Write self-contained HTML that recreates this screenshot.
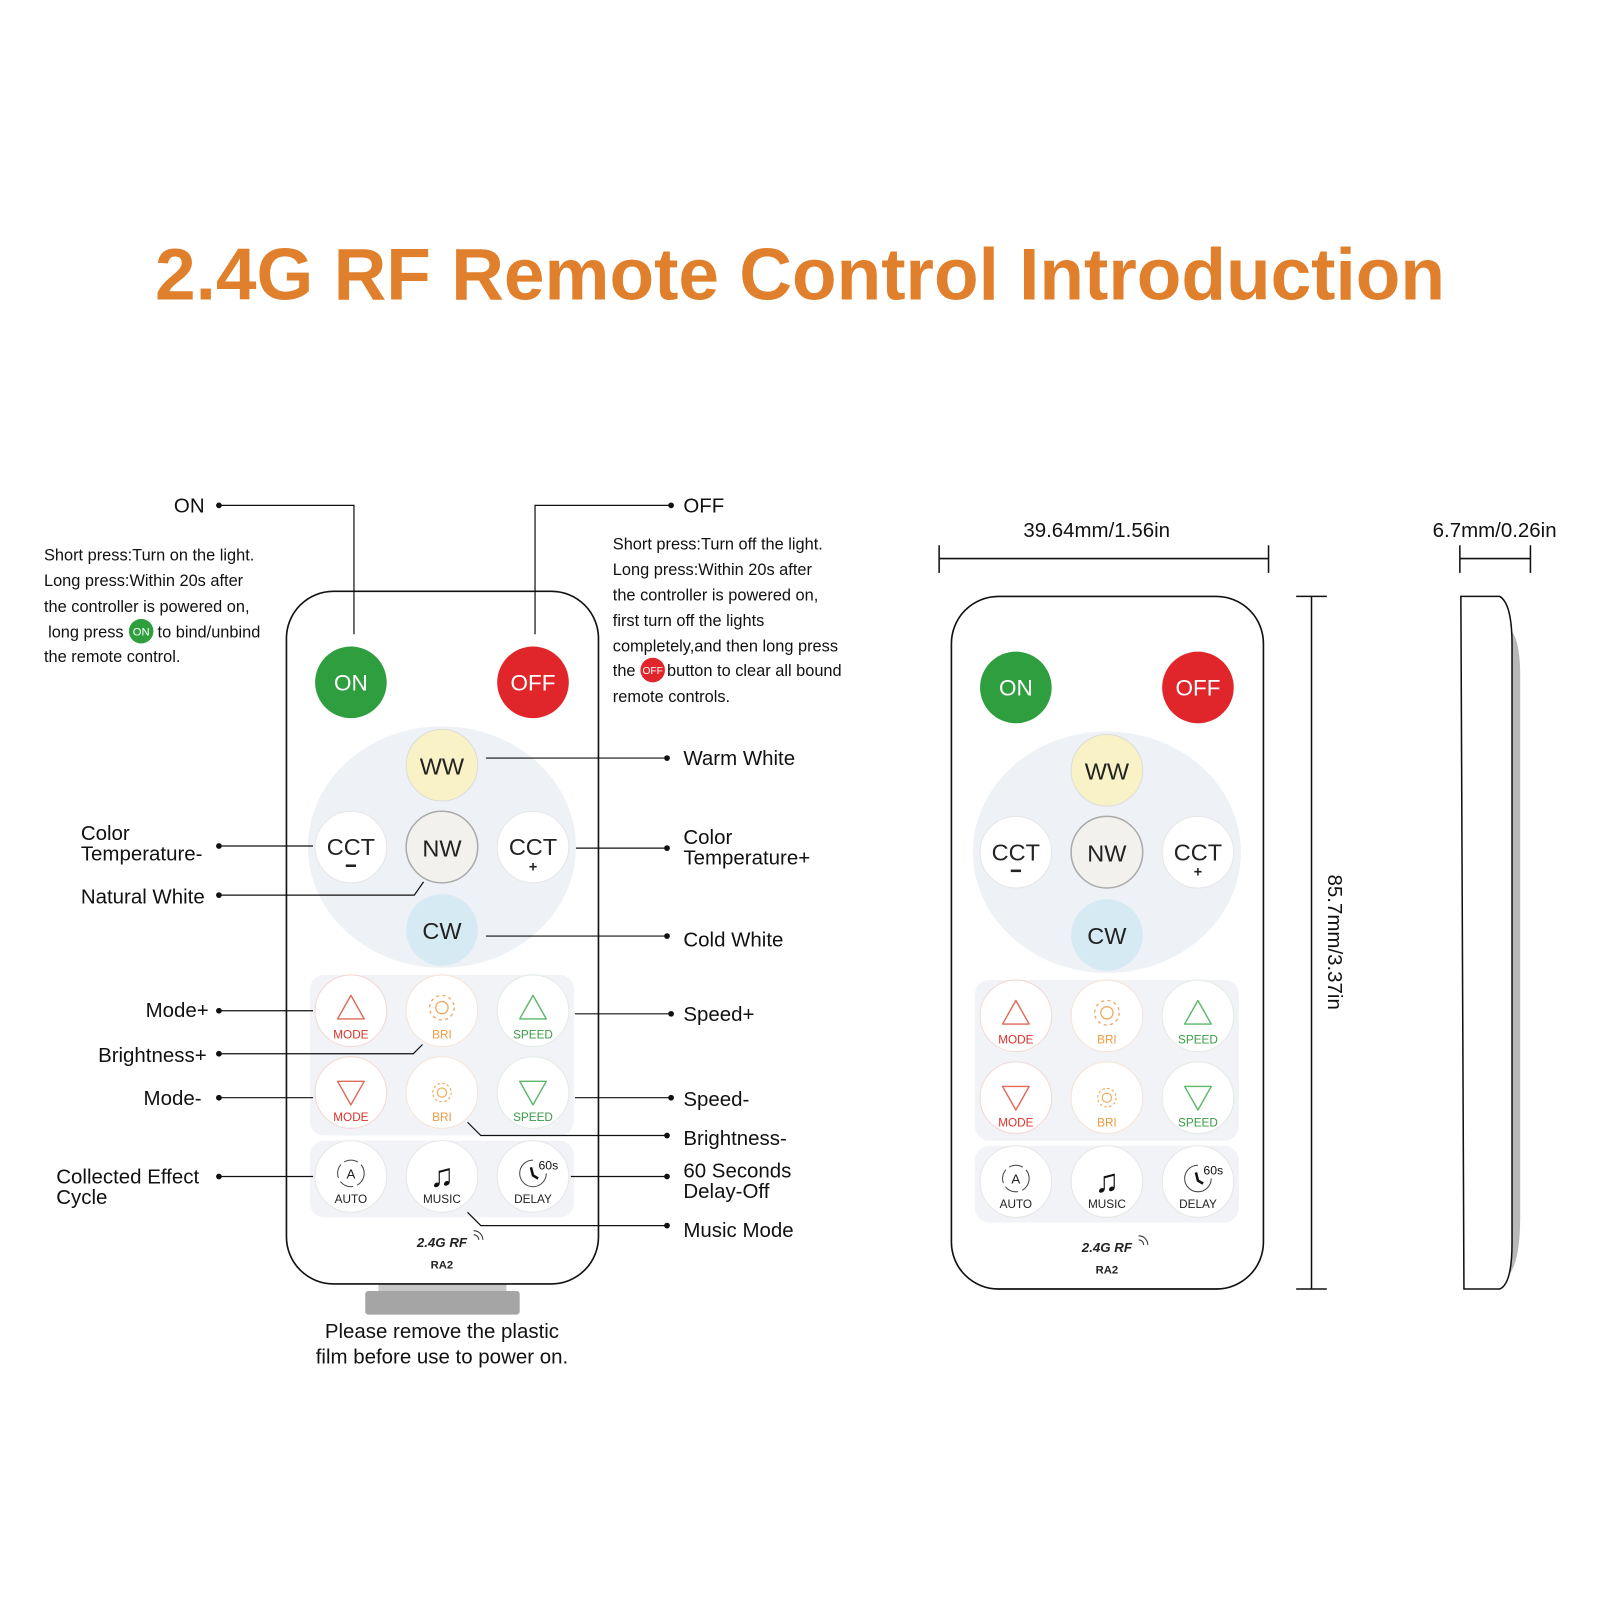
<!DOCTYPE html>
<html><head><meta charset="utf-8"><style>
html,body{margin:0;padding:0;background:#fff}
svg{display:block}
text{font-family:"Liberation Sans",sans-serif}
</style></head><body>
<svg width="1600" height="1600" viewBox="0 0 1564 1564" xmlns="http://www.w3.org/2000/svg">
<text x="782" y="293" text-anchor="middle" font-size="72" font-weight="bold" fill="#e07f2c" textLength="1261" lengthAdjust="spacingAndGlyphs">2.4G RF Remote Control Introduction</text>

<!-- LEFT REMOTE -->
<rect x="370" y="1254" width="125" height="9" fill="#c8c8c8"/>
<rect x="357" y="1262" width="151" height="23" rx="3" fill="#a5a5a5"/>
<g id="r1">
<rect x="280" y="578" width="305" height="677" rx="46" fill="#fff" stroke="#111" stroke-width="1.6"/>
<circle cx="343" cy="667" r="35" fill="#2e9e3e"/><text x="343" y="675" text-anchor="middle" font-size="22" fill="#fff">ON</text>
<circle cx="521" cy="667" r="35" fill="#e0262a"/><text x="521" y="675" text-anchor="middle" font-size="22" fill="#fff">OFF</text>
<ellipse cx="432" cy="828" rx="131" ry="118" fill="#eef1f6"/>
<circle cx="432" cy="748" r="35" fill="#f8f2c6" stroke="#ddd"/><text x="432" y="757" text-anchor="middle" font-size="23" fill="#222">WW</text>
<circle cx="343" cy="828" r="35" fill="#fff" stroke="#e6e6e6"/><text x="343" y="836" text-anchor="middle" font-size="23" fill="#222">CCT</text><rect x="338" y="845" width="10" height="2.5" fill="#222"/>
<circle cx="432" cy="828" r="35" fill="#f2f1ee" stroke="#aaa" stroke-width="1.5"/><text x="432" y="837" text-anchor="middle" font-size="23" fill="#222">NW</text>
<circle cx="521" cy="828" r="35" fill="#fff" stroke="#e6e6e6"/><text x="521" y="836" text-anchor="middle" font-size="23" fill="#222">CCT</text><text x="521" y="852" text-anchor="middle" font-size="14" font-weight="bold" fill="#222">+</text>
<circle cx="432" cy="909" r="35" fill="#d6eaf4"/><text x="432" y="918" text-anchor="middle" font-size="23" fill="#222">CW</text>
<rect x="303" y="953" width="258" height="157" rx="14" fill="#f1f3f7"/>
<rect x="303" y="1115" width="258" height="75" rx="14" fill="#f1f3f7"/>
<g stroke-width="1">
<circle cx="343" cy="988" r="35" fill="#fff" stroke="#f2d9d4"/><circle cx="432" cy="988" r="35" fill="#fff" stroke="#f5e4d6"/><circle cx="521" cy="988" r="35" fill="#fff" stroke="#e3ebe3"/>
<circle cx="343" cy="1068" r="35" fill="#fff" stroke="#f2d9d4"/><circle cx="432" cy="1068" r="35" fill="#fff" stroke="#f5e4d6"/><circle cx="521" cy="1068" r="35" fill="#fff" stroke="#e3ebe3"/>
<circle cx="343" cy="1150" r="35" fill="#fff" stroke="#e6e6e6"/><circle cx="432" cy="1150" r="35" fill="#fff" stroke="#e6e6e6"/><circle cx="521" cy="1150" r="35" fill="#fff" stroke="#e6e6e6"/>
</g>
<path d="M343 973 L356 996 L330 996 Z" fill="none" stroke="#e06a5a" stroke-width="1.4" stroke-linejoin="round"/>
<path d="M521 973 L534 996 L508 996 Z" fill="none" stroke="#5cb86a" stroke-width="1.4" stroke-linejoin="round"/>
<path d="M343 1080 L356 1057 L330 1057 Z" fill="none" stroke="#e06a5a" stroke-width="1.4" stroke-linejoin="round"/>
<path d="M521 1080 L534 1057 L508 1057 Z" fill="none" stroke="#5cb86a" stroke-width="1.4" stroke-linejoin="round"/>
<circle cx="432" cy="985" r="6" fill="none" stroke="#f0a860" stroke-width="1.3"/><circle cx="432" cy="985" r="12" fill="none" stroke="#f0a860" stroke-width="1.3" stroke-dasharray="3 3.3"/>
<circle cx="432" cy="1068" r="4.5" fill="none" stroke="#f0b060" stroke-width="1.2"/><circle cx="432" cy="1068" r="9" fill="none" stroke="#f0b060" stroke-width="1.2" stroke-dasharray="2.5 2.2"/>
<g font-size="11.5" text-anchor="middle">
<text x="343" y="1015" fill="#d8332b">MODE</text><text x="432" y="1015" fill="#f09a40">BRI</text><text x="521" y="1015" fill="#3a9a45">SPEED</text>
<text x="343" y="1096" fill="#d8332b">MODE</text><text x="432" y="1096" fill="#f09a40">BRI</text><text x="521" y="1096" fill="#3a9a45">SPEED</text>
<text x="343" y="1176" fill="#222">AUTO</text><text x="432" y="1176" fill="#222">MUSIC</text><text x="521" y="1176" fill="#222">DELAY</text>
</g>
<circle cx="343" cy="1147" r="13" fill="none" stroke="#444" stroke-width="1" stroke-dasharray="14 4"/><text x="343" y="1152" text-anchor="middle" font-size="13" fill="#222">A</text>
<text x="432" y="1160" text-anchor="middle" font-size="32" fill="#111">♫</text>
<path d="M521 1134 A13 13 0 1 0 534 1147" fill="none" stroke="#444" stroke-width="1"/><path d="M519 1141 L521 1149 L526 1152" fill="none" stroke="#111" stroke-width="2.5"/><text x="536" y="1143" text-anchor="middle" font-size="12" fill="#111">60s</text>
<text x="432" y="1219" text-anchor="middle" font-size="13" font-weight="bold" font-style="italic" fill="#222">2.4G  RF</text>
<path d="M463 1207 a5 5 0 0 1 5 5 M463 1203 a9 9 0 0 1 9 9" fill="none" stroke="#333" stroke-width="1"/>
<text x="432" y="1240" text-anchor="middle" font-size="11" font-weight="bold" fill="#222">RA2</text>
</g>

<!-- RIGHT REMOTE (copy) -->
<g transform="translate(650,5)">
<rect x="280" y="578" width="305" height="677" rx="46" fill="#fff" stroke="#111" stroke-width="1.6"/>
<circle cx="343" cy="667" r="35" fill="#2e9e3e"/><text x="343" y="675" text-anchor="middle" font-size="22" fill="#fff">ON</text>
<circle cx="521" cy="667" r="35" fill="#e0262a"/><text x="521" y="675" text-anchor="middle" font-size="22" fill="#fff">OFF</text>
<ellipse cx="432" cy="828" rx="131" ry="118" fill="#eef1f6"/>
<circle cx="432" cy="748" r="35" fill="#f8f2c6" stroke="#ddd"/><text x="432" y="757" text-anchor="middle" font-size="23" fill="#222">WW</text>
<circle cx="343" cy="828" r="35" fill="#fff" stroke="#e6e6e6"/><text x="343" y="836" text-anchor="middle" font-size="23" fill="#222">CCT</text><rect x="338" y="845" width="10" height="2.5" fill="#222"/>
<circle cx="432" cy="828" r="35" fill="#f2f1ee" stroke="#aaa" stroke-width="1.5"/><text x="432" y="837" text-anchor="middle" font-size="23" fill="#222">NW</text>
<circle cx="521" cy="828" r="35" fill="#fff" stroke="#e6e6e6"/><text x="521" y="836" text-anchor="middle" font-size="23" fill="#222">CCT</text><text x="521" y="852" text-anchor="middle" font-size="14" font-weight="bold" fill="#222">+</text>
<circle cx="432" cy="909" r="35" fill="#d6eaf4"/><text x="432" y="918" text-anchor="middle" font-size="23" fill="#222">CW</text>
<rect x="303" y="953" width="258" height="157" rx="14" fill="#f1f3f7"/>
<rect x="303" y="1115" width="258" height="75" rx="14" fill="#f1f3f7"/>
<g stroke-width="1">
<circle cx="343" cy="988" r="35" fill="#fff" stroke="#f2d9d4"/><circle cx="432" cy="988" r="35" fill="#fff" stroke="#f5e4d6"/><circle cx="521" cy="988" r="35" fill="#fff" stroke="#e3ebe3"/>
<circle cx="343" cy="1068" r="35" fill="#fff" stroke="#f2d9d4"/><circle cx="432" cy="1068" r="35" fill="#fff" stroke="#f5e4d6"/><circle cx="521" cy="1068" r="35" fill="#fff" stroke="#e3ebe3"/>
<circle cx="343" cy="1150" r="35" fill="#fff" stroke="#e6e6e6"/><circle cx="432" cy="1150" r="35" fill="#fff" stroke="#e6e6e6"/><circle cx="521" cy="1150" r="35" fill="#fff" stroke="#e6e6e6"/>
</g>
<path d="M343 973 L356 996 L330 996 Z" fill="none" stroke="#e06a5a" stroke-width="1.4" stroke-linejoin="round"/>
<path d="M521 973 L534 996 L508 996 Z" fill="none" stroke="#5cb86a" stroke-width="1.4" stroke-linejoin="round"/>
<path d="M343 1080 L356 1057 L330 1057 Z" fill="none" stroke="#e06a5a" stroke-width="1.4" stroke-linejoin="round"/>
<path d="M521 1080 L534 1057 L508 1057 Z" fill="none" stroke="#5cb86a" stroke-width="1.4" stroke-linejoin="round"/>
<circle cx="432" cy="985" r="6" fill="none" stroke="#f0a860" stroke-width="1.3"/><circle cx="432" cy="985" r="12" fill="none" stroke="#f0a860" stroke-width="1.3" stroke-dasharray="3 3.3"/>
<circle cx="432" cy="1068" r="4.5" fill="none" stroke="#f0b060" stroke-width="1.2"/><circle cx="432" cy="1068" r="9" fill="none" stroke="#f0b060" stroke-width="1.2" stroke-dasharray="2.5 2.2"/>
<g font-size="11.5" text-anchor="middle">
<text x="343" y="1015" fill="#d8332b">MODE</text><text x="432" y="1015" fill="#f09a40">BRI</text><text x="521" y="1015" fill="#3a9a45">SPEED</text>
<text x="343" y="1096" fill="#d8332b">MODE</text><text x="432" y="1096" fill="#f09a40">BRI</text><text x="521" y="1096" fill="#3a9a45">SPEED</text>
<text x="343" y="1176" fill="#222">AUTO</text><text x="432" y="1176" fill="#222">MUSIC</text><text x="521" y="1176" fill="#222">DELAY</text>
</g>
<circle cx="343" cy="1147" r="13" fill="none" stroke="#444" stroke-width="1" stroke-dasharray="14 4"/><text x="343" y="1152" text-anchor="middle" font-size="13" fill="#222">A</text>
<text x="432" y="1160" text-anchor="middle" font-size="32" fill="#111">♫</text>
<path d="M521 1134 A13 13 0 1 0 534 1147" fill="none" stroke="#444" stroke-width="1"/><path d="M519 1141 L521 1149 L526 1152" fill="none" stroke="#111" stroke-width="2.5"/><text x="536" y="1143" text-anchor="middle" font-size="12" fill="#111">60s</text>
<text x="432" y="1219" text-anchor="middle" font-size="13" font-weight="bold" font-style="italic" fill="#222">2.4G  RF</text>
<path d="M463 1207 a5 5 0 0 1 5 5 M463 1203 a9 9 0 0 1 9 9" fill="none" stroke="#333" stroke-width="1"/>
<text x="432" y="1240" text-anchor="middle" font-size="11" font-weight="bold" fill="#222">RA2</text>
</g>

<!-- dimensions -->
<g stroke="#111" stroke-width="1.5" fill="none">
<path d="M918 546 H1240 M918 533 V560 M1240 533 V560"/>
<path d="M1282 583 V1260 M1267 583 H1297 M1267 1260 H1297"/>
<path d="M1427 546 H1496 M1427 533 V560 M1496 533 V560"/>
</g>
<text x="1072" y="525" text-anchor="middle" font-size="20" fill="#111">39.64mm/1.56in</text>
<text x="1461" y="525" text-anchor="middle" font-size="20" fill="#111">6.7mm/0.26in</text>
<text transform="translate(1298,921) rotate(90)" text-anchor="middle" font-size="20" fill="#111">85.7mm/3.37in</text>
<path d="M1476 615 Q1486 625 1486 660 V1190 Q1486 1230 1476 1245 Z" fill="#b8b8b8"/>
<path d="M1428 583 H1466 Q1478 590 1478 630 V1215 Q1478 1255 1466 1260 H1431 Z" fill="#fff" stroke="#111" stroke-width="1.5"/>

<!-- callouts -->
<g stroke="#111" stroke-width="1.2" fill="none">
<path d="M214 494 H346 V620"/>
<path d="M523 620 V494 H656"/>
<path d="M475 741 H652"/>
<path d="M214 827 H306"/>
<path d="M214 875 H405 L414 862"/>
<path d="M563 829 H652"/>
<path d="M475 915 H652"/>
<path d="M214 988 H306"/>
<path d="M562 991 H656"/>
<path d="M214 1030 H404 L413 1021"/>
<path d="M214 1073 H306"/>
<path d="M562 1073 H656"/>
<path d="M457 1097 L470 1110 H652"/>
<path d="M558 1150 H652"/>
<path d="M214 1150 H306"/>
<path d="M457 1185 L470 1198 H652"/>
</g>
<g fill="#111">
<circle cx="214" cy="494" r="2.8"/><circle cx="656" cy="494" r="2.8"/><circle cx="652" cy="741" r="2.8"/>
<circle cx="214" cy="827" r="2.8"/><circle cx="214" cy="875" r="2.8"/><circle cx="652" cy="829" r="2.8"/>
<circle cx="652" cy="915" r="2.8"/><circle cx="214" cy="988" r="2.8"/><circle cx="656" cy="991" r="2.8"/>
<circle cx="214" cy="1030" r="2.8"/><circle cx="214" cy="1073" r="2.8"/><circle cx="656" cy="1073" r="2.8"/>
<circle cx="652" cy="1110" r="2.8"/><circle cx="652" cy="1150" r="2.8"/><circle cx="214" cy="1150" r="2.8"/><circle cx="652" cy="1198" r="2.8"/>
</g>
<g font-size="20" fill="#111">
<text x="200" y="501" text-anchor="end">ON</text>
<text x="668" y="501">OFF</text>
<text x="668" y="748">Warm White</text>
<text x="79" y="821">Color</text><text x="79" y="841">Temperature-</text>
<text x="79" y="883">Natural White</text>
<text x="668" y="825">Color</text><text x="668" y="845">Temperature+</text>
<text x="668" y="925">Cold White</text>
<text x="204" y="994" text-anchor="end">Mode+</text>
<text x="668" y="998">Speed+</text>
<text x="202" y="1038" text-anchor="end">Brightness+</text>
<text x="197" y="1080" text-anchor="end">Mode-</text>
<text x="668" y="1081">Speed-</text>
<text x="668" y="1119">Brightness-</text>
<text x="668" y="1151">60 Seconds</text><text x="668" y="1171">Delay-Off</text>
<text x="55" y="1157">Collected Effect</text><text x="55" y="1177">Cycle</text>
<text x="668" y="1209">Music Mode</text>
<text x="432" y="1308" text-anchor="middle">Please remove the plastic</text>
<text x="432" y="1333" text-anchor="middle">film before use to power on.</text>
</g>
<g font-size="16" fill="#111">
<text x="43" y="548">Short press:Turn on the light.</text>
<text x="43" y="573">Long press:Within 20s after</text>
<text x="43" y="598">the controller is powered on,</text>
<text x="47" y="623">long press</text><text x="154" y="623">to bind/unbind</text>
<text x="43" y="647">the remote control.</text>
<text x="599" y="537">Short press:Turn off the light.</text>
<text x="599" y="562">Long press:Within 20s after</text>
<text x="599" y="587">the controller is powered on,</text>
<text x="599" y="612">first turn off the lights</text>
<text x="599" y="637">completely,and then long press</text>
<text x="599" y="661">the</text><text x="652" y="661">button to clear all bound</text>
<text x="599" y="686">remote controls.</text>
</g>
<circle cx="138" cy="617" r="12" fill="#2e9e3e"/><text x="138" y="621" text-anchor="middle" font-size="11" fill="#fff">ON</text>
<circle cx="638" cy="655" r="12" fill="#e0262a"/><text x="638" y="659" text-anchor="middle" font-size="10" fill="#fff">OFF</text>
</svg>
</body></html>
